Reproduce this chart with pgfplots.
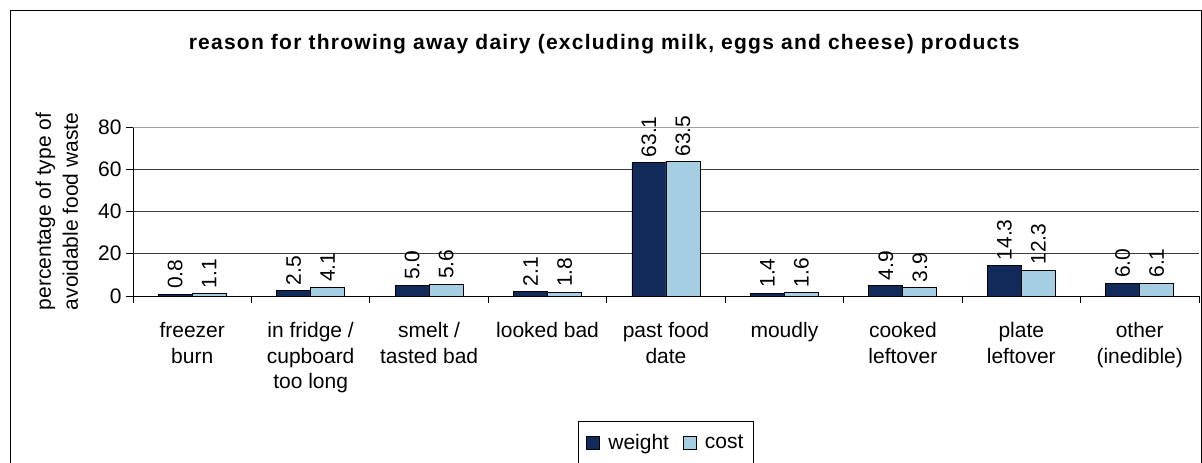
\documentclass[border=0pt]{standalone}
\usepackage{pgfplots}
\pgfplotsset{compat=1.18}
\usepackage{fontspec}
\setmainfont{Liberation Sans}
\newfontfamily\titlefont[LetterSpace=6]{Liberation Sans}

\definecolor{navy}{HTML}{112A5A}
\definecolor{lblue}{HTML}{A6CEE2}
\definecolor{gridc}{HTML}{3C3C3C}
\definecolor{boxc}{HTML}{A0A0A0}

\pgfplotsset{
  squarelegend/.style={legend image code/.code={
      \draw[##1, draw=black] (0pt,-6.5pt) rectangle (13pt,6.5pt);}},
}

\begin{document}
\begin{tikzpicture}[x=1pt,y=1pt]
\useasboundingbox (0,0) rectangle (1202,463);
\clip (0,0) rectangle (1202,463);
\fill[white] (0,0) rectangle (1202,463);
\draw[black, line width=1pt] (10.5,-20) rectangle (1201.5,452.5);

\begin{axis}[
  at={(133pt,167pt)}, anchor=south west,
  scale only axis, width=1066pt, height=169pt,
  xmin=-0.5, xmax=8.5, ymin=0, ymax=80,
  ybar=0pt, bar width=34pt,
  axis x line*=bottom, axis y line*=left,
  axis line style={black, line width=0.9pt},
  tick align=outside, major tick length=7pt, minor tick length=7pt,
  ytick={0,20,40,60,80},
  ymajorgrids, grid style={gridc, line width=0.7pt},
  xtick={0,...,8},
  major x tick style={draw=none},
  minor xtick={-0.5,0.5,...,8.5},
  minor x tick style={black, line width=0.9pt},
  ytick style={black, line width=0.9pt},
  xticklabels={{freezer\\burn},{in fridge /\\cupboard\\too long},{smelt /\\tasted bad},{looked bad},{past food\\date},{moudly},{cooked\\leftover},{plate\\leftover},{other\\(inedible)}},
  xticklabel style={align=center, font=\fontsize{21}{25.5}\selectfont, anchor=north, yshift=-16pt},
  yticklabel style={font=\fontsize{21}{25}\selectfont, xshift=-1pt},
  /pgf/number format/assume math mode=true,
  ylabel={percentage of type of\\avoidable food waste},
  ylabel style={align=center, font=\fontsize{21}{27}\selectfont,
    at={(axis description cs:-0.0715,0.5)}, anchor=center},
  title={reason for throwing away dairy (excluding milk, eggs and cheese) products},
  title style={font=\titlefont\bfseries\fontsize{21}{24}\selectfont,
    at={(axis description cs:0.442,1.455)}, anchor=center},
  nodes near coords,
  every node near coord/.append style={rotate=90, anchor=west, inner sep=5pt,
    font=\fontsize{21}{25}\selectfont, black},
  nodes near coords={\pgfmathprintnumber[fixed, fixed zerofill, precision=1, assume math mode=true]{\pgfplotspointmeta}},
  legend style={at={(axis description cs:0.5,-0.7396)}, anchor=north,
    legend columns=2, draw=black, line width=0.9pt, font=\fontsize{21}{25}\selectfont,
    inner xsep=8pt, inner ysep=11pt,
    /tikz/every odd column/.append style={column sep=6pt},
    /tikz/every even column/.append style={column sep=12pt}},
  legend cell align=left,
]
\addplot[fill=navy, draw=black, line width=0.9pt, squarelegend] coordinates {
  (0,0.8) (1,2.5) (2,5.0) (3,2.1) (4,63.1) (5,1.4) (6,4.9) (7,14.3) (8,6.0)
};
\addplot[fill=lblue, draw=black, line width=0.9pt, squarelegend] coordinates {
  (0,1.1) (1,4.1) (2,5.6) (3,1.8) (4,63.5) (5,1.6) (6,3.9) (7,12.3) (8,6.1)
};
\legend{weight,cost}
\draw[boxc, line width=0.9pt] (rel axis cs:0,1) -| (rel axis cs:1,0);
\end{axis}
\end{tikzpicture}
\end{document}
